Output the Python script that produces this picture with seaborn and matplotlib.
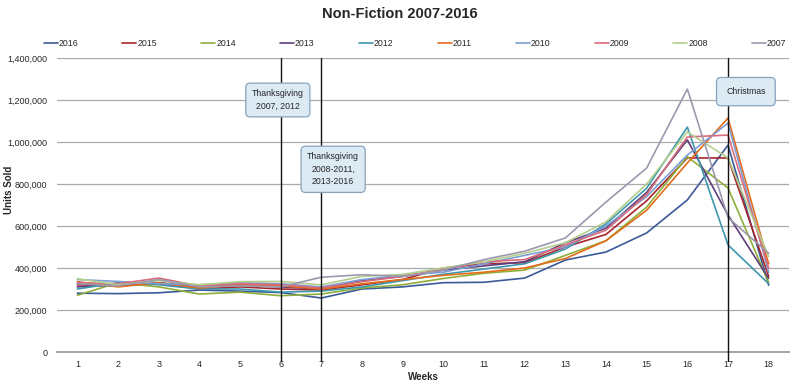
import matplotlib
matplotlib.use("Agg")
import matplotlib.pyplot as plt
import seaborn as sns
import pandas as pd
from matplotlib.ticker import FuncFormatter
from matplotlib.lines import Line2D

weeks = list(range(1, 19))
years = ["2016", "2015", "2014", "2013", "2012", "2011", "2010", "2009", "2008", "2007"]

s2016 = [280, 278, 282, 295, 290, 283, 257, 300, 310, 330, 332, 352, 438, 476, 567, 724, 985, 318]
s2015 = [320, 315, 325, 300, 310, 300, 295, 320, 345, 400, 420, 425, 500, 560, 720, 924, 924, 360]
s2014 = [270, 330, 310, 276, 285, 268, 276, 305, 320, 350, 375, 390, 460, 530, 690, 930, 781, 330]
s2013 = [310, 320, 330, 310, 320, 310, 300, 340, 360, 390, 410, 430, 520, 590, 760, 1010, 652, 350]
s2012 = [300, 330, 320, 300, 300, 285, 290, 310, 340, 370, 395, 420, 490, 610, 780, 1071, 510, 325]
s2011 = [335, 310, 330, 305, 320, 315, 300, 325, 345, 365, 380, 400, 445, 530, 675, 900, 1114, 420]
s2010 = [345, 336, 325, 320, 330, 325, 310, 345, 365, 380, 420, 460, 500, 600, 740, 938, 1090, 380]
s2009 = [330, 325, 352, 315, 325, 320, 305, 335, 360, 395, 430, 440, 510, 580, 750, 1024, 1033, 400]
s2008 = [349, 320, 340, 320, 335, 336, 320, 360, 370, 400, 430, 470, 520, 620, 800, 1048, 924, 455]
s2007 = [325, 315, 345, 310, 315, 310, 356, 368, 360, 390, 440, 480, 543, 714, 876, 1252, 640, 470]

series = [s2016, s2015, s2014, s2013, s2012, s2011, s2010, s2009, s2008, s2007]
colors = ["#3B5A9A", "#A8262B", "#8FAE3A", "#5E3E7D", "#3F97AE",
          "#E46C1A", "#7C9ED4", "#D96B78", "#B3CF8B", "#9C98AE"]

rows = []
for y, vals in zip(years, series):
    for w, v in zip(weeks, vals):
        rows.append({"Week": w, "Units": v * 1000, "Year": y})
df = pd.DataFrame(rows)

sns.set_theme(style="white")
plt.rcParams['font.family'] = ['Liberation Sans', 'DejaVu Sans']

fig = plt.figure(figsize=(8, 3.87), dpi=100)
ax = fig.add_axes([57/800, 1 - 352/387, (789-57)/800, (352-58)/387])

sns.lineplot(data=df, x="Week", y="Units", hue="Year", hue_order=years,
             palette=dict(zip(years, colors)), linewidth=1.2, ax=ax, legend=False)

ax.set_xlim(0.5, 18.5)
ax.set_ylim(0, 1400000)
ax.set_yticks(range(0, 1400001, 200000))
ax.yaxis.set_major_formatter(FuncFormatter(lambda v, p: f"{int(v):,}"))
ax.set_xticks(weeks)
ax.set_xticks([w + 0.5 for w in range(0, 18)] + [18.5], minor=True)
ax.tick_params(axis="x", which="major", length=0, labelsize=6.5, pad=6)
ax.tick_params(axis="x", which="minor", length=3, color="#888888", direction="out")
ax.tick_params(axis="y", which="major", length=0, labelsize=6.5, pad=7)
ax.grid(axis="y", color="#AAAAAA", linewidth=0.9)
for sp in ["top", "right", "left"]:
    ax.spines[sp].set_visible(False)
ax.spines["bottom"].set_color("#999999")

ax.set_xlabel("Weeks", fontsize=7, fontweight="bold", labelpad=2)
ax.set_ylabel("")
fig.text(9/800, 1 - 190/387, "Units Sold", rotation=90, ha="center", va="center",
         fontsize=7, fontweight="bold")

for xv in [6, 7, 17]:
    ax.axvline(xv, ymin=-0.03, ymax=1.0, color="#111111", linewidth=1.0, clip_on=False, zorder=5)

box = dict(boxstyle="round,pad=0.7,rounding_size=0.5", facecolor="#DCEAF4", edgecolor="#8AA3BD", linewidth=0.9)
ax.text(5.93, 1200000, "Thanksgiving\n2007, 2012", ha="center", va="center", fontsize=6.3,
        bbox=box, zorder=6, linespacing=1.5)
ax.text(7.29, 870000, "Thanksgiving\n2008-2011,\n2013-2016", ha="center", va="center", fontsize=6.3,
        bbox=box, zorder=6, linespacing=1.5)
ax.text(17.44, 1240000, "Christmas", ha="center", va="center", fontsize=6.3,
        bbox=dict(boxstyle="round,pad=1.1,rounding_size=0.5", facecolor="#DCEAF4", edgecolor="#8AA3BD", linewidth=0.9),
        zorder=6)

fig.suptitle("Non-Fiction 2007-2016", x=0.5, y=1 - 14/387, va="center", fontsize=10.5, fontweight="bold")

handles = [Line2D([0], [0], color=c, linewidth=1.2) for c in colors]
fig.legend(handles, years, loc="center", ncol=10, bbox_to_anchor=(40/800, 1 - 44/387, 750/800, 0),
           mode="expand", frameon=False, fontsize=6.3, handlelength=1.6, handletextpad=0.1,
           borderaxespad=0)

fig.savefig("out.png", dpi=100)
